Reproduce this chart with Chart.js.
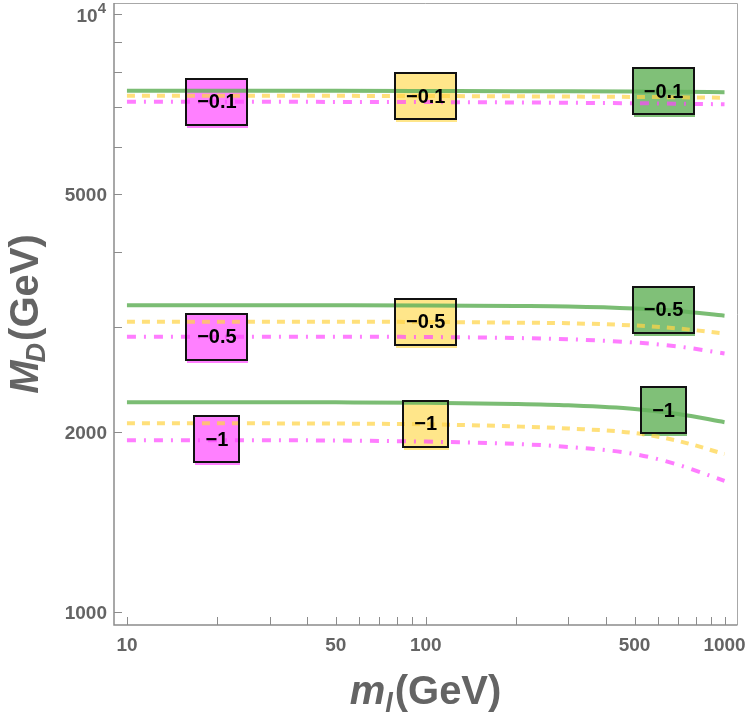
<!DOCTYPE html>
<html><head><meta charset="utf-8">
<script src="https://cdn.jsdelivr.net/npm/chart.js@4.4.1/dist/chart.umd.min.js"></script>
<style>html,body{margin:0;padding:0;background:#fff;}</style>
</head><body>
<canvas id="c" width="750" height="723"></canvas>
<script>
// ---- data ----
const masses = [10, 20, 50, 100, 200, 300, 500, 700, 1000];
// coupling -0.1
const green01   = [7452, 7450, 7448, 7443, 7438, 7433, 7425, 7418, 7408];
const yellow01  = [7310, 7308, 7305, 7300, 7292, 7285, 7275, 7265, 7253];
const magenta01 = [7142, 7140, 7137, 7132, 7122, 7113, 7100, 7088, 7071];
// coupling -0.5
const green05   = [3262, 3262, 3261, 3259, 3253, 3247, 3222, 3191, 3133];
const yellow05  = [3062, 3062, 3061, 3058, 3050, 3043, 3017, 2982, 2925];
const magenta05 = [2890, 2890, 2889, 2886, 2875, 2861, 2826, 2783, 2709];
// coupling -1
const green1    = [2245, 2245, 2244, 2241, 2230, 2218, 2188, 2146, 2079];
const yellow1   = [2071, 2070, 2068, 2062, 2045, 2029, 1994, 1934, 1839];
const magenta1  = [1940, 1940, 1937, 1929, 1912, 1890, 1839, 1764, 1658];

// box labels
const labelTexts = ['\u22120.1', '\u22120.5', '\u22121'];
const magentaLabelMass = 20, yellowLabelMass = 100, greenLabelMass = 625;
const magentaLabelVals = [7145, 2888, 1945];
const yellowLabelVals  = [7300, 3058, 2068];
const greenLabelVals   = [7435, 3206, 2175];

// ticks
const xTickValues = [10,20,30,40,50,60,70,80,90,100,200,300,400,500,600,700,800,900,1000];
const xTickLabels = {10:'10', 50:'50', 100:'100', 500:'500', 1000:'1000'};
const yTickValues = [1000,2000,3000,4000,5000,6000,7000,8000,9000,10000];
const yTickLabels = {1000:'1000', 2000:'2000', 5000:'5000'};

// ---- styles ----
const GREEN = 'rgba(100,178,92,0.85)';
const YELLOW = 'rgba(255,212,70,0.72)';
const MAGENTA = 'rgba(255,70,255,0.7)';
const BOX_GREEN = 'rgb(128,192,120)';
const BOX_YELLOW = 'rgb(255,230,138)';
const BOX_MAGENTA = 'rgb(255,128,255)';
const TXT = '#646464';
const FONT = '"Liberation Sans", Arial, sans-serif';

function pts(arr){ return masses.map((m,i)=>({x:m, y:arr[i]})); }
function ds(arr, color, dash){
  return {data: pts(arr), borderColor: color, borderWidth: 4, borderDash: dash,
    pointRadius: 0, showLine: true, fill: false, tension: 0.35, cubicInterpolationMode: 'monotone'};
}
const datasets = [
  ds(green01, GREEN, []), ds(green05, GREEN, []), ds(green1, GREEN, []),
  ds(yellow01, YELLOW, [8,7]), ds(yellow05, YELLOW, [8,7]), ds(yellow1, YELLOW, [8,7]),
  ds(magenta01, MAGENTA, [9,8,2,8]), ds(magenta05, MAGENTA, [9,8,2,8]), ds(magenta1, MAGENTA, [9,8,2,8])
];

function boxList(chart){
  const xs = chart.scales.x, ys = chart.scales.y;
  const ctx = chart.ctx;
  ctx.font = 'bold 20px ' + FONT;
  const out = [];
  const groups = [
    [magentaLabelMass, magentaLabelVals, BOX_MAGENTA],
    [yellowLabelMass, yellowLabelVals, BOX_YELLOW],
    [greenLabelMass, greenLabelVals, BOX_GREEN]
  ];
  groups.forEach(([m, vals, col])=>{
    vals.forEach((v,i)=>{
      const cx = xs.getPixelForValue(m), cy = ys.getPixelForValue(v);
      const tw = ctx.measureText(labelTexts[i]).width;
      const w = Math.round(tw + 22), h = 46;
      out.push({x: Math.round(cx - w/2), y: Math.round(cy - h/2), w, h, col, cx, cy, text: labelTexts[i]});
    });
  });
  return out;
}

const boxPlugin = {
  id: 'boxes',
  beforeDatasetsDraw(chart){
    const ctx = chart.ctx;
    ctx.save();
    boxList(chart).forEach(b=>{
      ctx.fillStyle = b.col;
      ctx.fillRect(b.x + 1, b.y + 3, b.w, b.h);
      ctx.fillRect(b.x, b.y, b.w, b.h);
    });
    ctx.restore();
  },
  afterDatasetsDraw(chart){
    const ctx = chart.ctx;
    ctx.save();
    boxList(chart).forEach(b=>{
      ctx.strokeStyle = '#111';
      ctx.lineWidth = 2;
      ctx.strokeRect(b.x, b.y, b.w, b.h);
      ctx.fillStyle = '#000';
      ctx.font = 'bold 20px ' + FONT;
      ctx.textAlign = 'center';
      ctx.textBaseline = 'middle';
      ctx.fillText(b.text, b.cx, b.cy + 1);
    });
    ctx.restore();
  }
};

const framePlugin = {
  id: 'frame',
  afterDraw(chart){
    const ctx = chart.ctx, a = chart.chartArea;
    const xs = chart.scales.x, ys = chart.scales.y;
    ctx.save();
    // frame
    ctx.strokeStyle = '#a8a8a8'; ctx.lineWidth = 1;
    ctx.beginPath();
    ctx.moveTo(a.left, a.top + 0.5); ctx.lineTo(a.right + 0.5, a.top + 0.5); ctx.lineTo(a.right + 0.5, a.bottom);
    ctx.stroke();
    ctx.strokeStyle = '#8c8c8c'; ctx.lineWidth = 1.5;
    ctx.beginPath();
    ctx.moveTo(a.left, a.top); ctx.lineTo(a.left, a.bottom); ctx.lineTo(a.right + 0.5, a.bottom);
    ctx.stroke();
    // inward ticks
    ctx.strokeStyle = '#8c8c8c'; ctx.lineWidth = 1;
    ctx.beginPath();
    xTickValues.forEach(v=>{
      const px = Math.round(xs.getPixelForValue(v)) + 0.5;
      ctx.moveTo(px, a.bottom); ctx.lineTo(px, a.bottom - 8);
    });
    yTickValues.forEach(v=>{
      const py = Math.round(ys.getPixelForValue(v)) + 0.5;
      ctx.moveTo(a.left, py); ctx.lineTo(a.left + 8, py);
    });
    ctx.stroke();
    // tick labels
    ctx.fillStyle = TXT;
    ctx.textBaseline = 'alphabetic';
    ctx.font = 'bold 19px ' + FONT;
    ctx.textAlign = 'center';
    xTickValues.forEach(v=>{
      if (xTickLabels[v]) ctx.fillText(xTickLabels[v], xs.getPixelForValue(v), a.bottom + 26);
    });
    ctx.textAlign = 'right';
    yTickValues.forEach(v=>{
      if (yTickLabels[v]) ctx.fillText(yTickLabels[v], a.left - 7, ys.getPixelForValue(v) + 7);
    });
    // 10^4 label
    const p4 = ys.getPixelForValue(10000);
    ctx.font = 'bold 15px ' + FONT;
    ctx.fillText('4', a.left - 8, p4 - 1);
    const w4 = ctx.measureText('4').width;
    ctx.font = 'bold 19px ' + FONT;
    ctx.fillText('10', a.left - 8 - w4, p4 + 8);
    // axis titles
    const big = 'bold 40px ' + FONT, bigI = 'italic bold 40px ' + FONT, subI = 'italic bold 27px ' + FONT;
    // x title
    ctx.textAlign = 'left'; ctx.textBaseline = 'alphabetic';
    ctx.font = bigI; const wm = ctx.measureText('m').width;
    ctx.font = subI; const wl = ctx.measureText('l').width;
    ctx.font = big; const wg = ctx.measureText('(GeV)').width;
    let x0 = (a.left + a.right) / 2 - (wm + wl + 2 + wg) / 2;
    const by = 704;
    ctx.font = bigI; ctx.fillText('m', x0, by);
    ctx.font = subI; ctx.fillText('l', x0 + wm, by + 8);
    ctx.font = big; ctx.fillText('(GeV)', x0 + wm + wl + 2, by);
    // y title
    ctx.translate(38, (a.top + a.bottom) / 2);
    ctx.rotate(-Math.PI / 2);
    ctx.font = bigI; const wM = ctx.measureText('M').width;
    ctx.font = subI; const wD = ctx.measureText('D').width;
    let y0 = -(wM + wD + wg) / 2;
    ctx.font = bigI; ctx.fillText('M', y0, 0);
    ctx.font = subI; ctx.fillText('D', y0 + wM - 2, 7);
    ctx.font = big; ctx.fillText('(GeV)', y0 + wM + wD, 0);
    ctx.restore();
  }
};

new Chart(document.getElementById('c'), {
  type: 'scatter',
  data: { datasets },
  options: {
    responsive: false,
    animation: false,
    events: [],
    layout: { padding: { left: 0, right: 13, top: 3, bottom: 0 } },
    plugins: { legend: { display: false }, tooltip: { enabled: false } },
    scales: {
      x: {
        type: 'logarithmic', min: 9.05, max: 1101,
        grid: { display: false, drawTicks: false }, border: { display: false },
        ticks: { display: false },
        afterFit: s => { s.height = 98; }
      },
      y: {
        type: 'logarithmic', min: 952, max: 10445,
        grid: { display: false, drawTicks: false }, border: { display: false },
        ticks: { display: false },
        afterFit: s => { s.width = 114; }
      }
    }
  },
  plugins: [boxPlugin, framePlugin]
});
</script>
</body></html>
